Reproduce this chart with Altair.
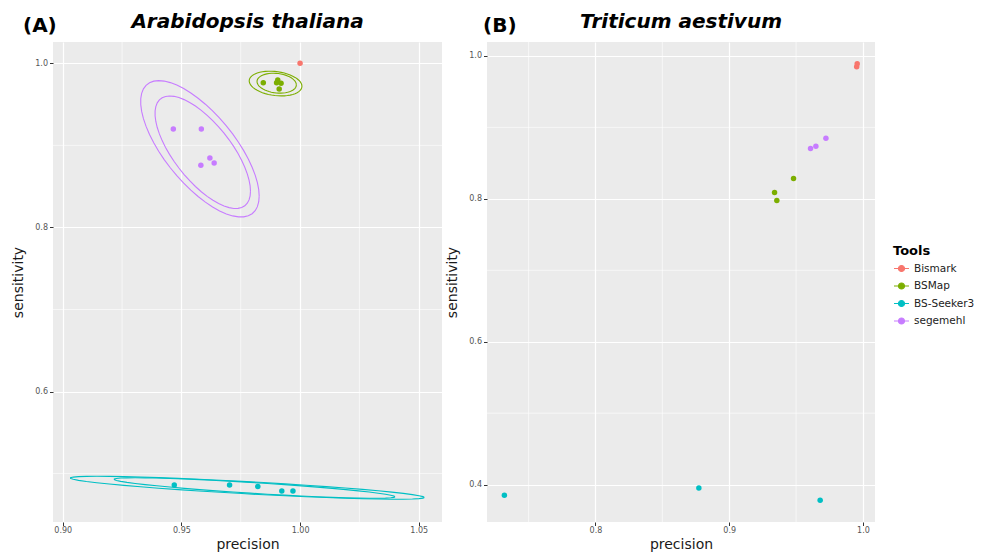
import numpy as np
import pandas as pd
import altair as alt

TOOLS = ["Bismark", "BSMap", "BS-Seeker3", "segemehl"]
COLORS = ["#F8766D", "#7CAE00", "#00BFC4", "#C77CFF"]

# ---------- Panel A: Arabidopsis thaliana ----------
a_bismark_prec = [1.000]
a_bismark_sens = [1.000]
a_bsmap_prec = [0.9845, 0.9901, 0.9906, 0.9920, 0.9912]
a_bsmap_sens = [0.9764, 0.9764, 0.9797, 0.9756, 0.9687]
a_seeker_prec = [0.9470, 0.9703, 0.9822, 0.9923, 0.9970]
a_seeker_sens = [0.4860, 0.4860, 0.4843, 0.4787, 0.4787]
a_seg_prec = [0.9466, 0.9584, 0.9620, 0.9638, 0.9582]
a_seg_sens = [0.9200, 0.9200, 0.8847, 0.8786, 0.8758]

# ---------- Panel B: Triticum aestivum ----------
b_bismark_prec = [0.9953, 0.9957]
b_bismark_sens = [0.9850, 0.9890]
b_bsmap_prec = [0.9481, 0.9339, 0.9356]
b_bsmap_sens = [0.8285, 0.8090, 0.7978]
b_seeker_prec = [0.7319, 0.8773, 0.9680]
b_seeker_sens = [0.3852, 0.3954, 0.3782]
b_seg_prec = [0.9723, 0.9648, 0.9608]
b_seg_sens = [0.8849, 0.8737, 0.8705]

# axis ticks
a_x_major = [0.90, 0.95, 1.00, 1.05]
a_x_minor = [0.925, 0.975, 1.025]
a_y_major = [0.6, 0.8, 1.0]
a_y_minor = [0.5, 0.7, 0.9]
b_x_major = [0.8, 0.9, 1.0]
b_x_minor = [0.75, 0.85, 0.95]
b_y_major = [0.4, 0.6, 0.8, 1.0]
b_y_minor = [0.5, 0.7, 0.9]

a_x_domain = [0.8959, 1.0598]
a_y_domain = [0.441, 1.026]
b_x_domain = [0.7189, 1.009]
b_y_domain = [0.3477, 1.0195]


def cov_trob(x, nu=5, maxit=25, tol=0.01):
    n, p = x.shape
    wt = np.ones(n)
    loc = (wt[:, None] * x).sum(0) / wt.sum()
    w = np.sqrt(wt)
    X = x - loc
    for _ in range(maxit):
        w0 = w
        X = x - loc
        A = np.sqrt(w / w.sum())[:, None] * X
        _, d, vt = np.linalg.svd(A, full_matrices=False)
        wX = X @ vt.T @ np.diag(1 / d)
        Q = (wX ** 2).sum(1)
        w = (wt * (nu + p)) / (nu + Q)
        loc = (w[:, None] * x).sum(0) / w.sum()
        if np.all(np.abs(w - w0) < tol):
            break
    sw = np.sqrt(w)[:, None] * X
    return sw.T @ sw / wt.sum(), loc


def ellipse(prec, sens, kind, level=0.95, segments=51):
    x = np.column_stack([prec, sens])
    n = len(x)
    if kind == "t":
        cov, center = cov_trob(x)
    else:
        cov = np.cov(x.T)
        center = x.mean(0)
    R = np.linalg.cholesky(cov).T
    d2 = n - 1
    qf = (d2 / 2.0) * ((1 - level) ** (-2.0 / d2) - 1)
    radius = np.sqrt(2 * qf)
    ang = np.arange(segments + 1) * 2 * np.pi / segments
    circ = np.column_stack([np.cos(ang), np.sin(ang)])
    return center + radius * (circ @ R)


def points_df(groups):
    rows = []
    for tool, pr, se in groups:
        for p, s in zip(pr, se):
            rows.append({"tool": tool, "precision": p, "sensitivity": s})
    return pd.DataFrame(rows)


a_groups = [
    ("Bismark", a_bismark_prec, a_bismark_sens),
    ("BSMap", a_bsmap_prec, a_bsmap_sens),
    ("BS-Seeker3", a_seeker_prec, a_seeker_sens),
    ("segemehl", a_seg_prec, a_seg_sens),
]
b_groups = [
    ("Bismark", b_bismark_prec, b_bismark_sens),
    ("BSMap", b_bsmap_prec, b_bsmap_sens),
    ("BS-Seeker3", b_seeker_prec, b_seeker_sens),
    ("segemehl", b_seg_prec, b_seg_sens),
]

a_pts = points_df(a_groups)
b_pts = points_df(b_groups)

ell_rows = []
for tool, pr, se in a_groups:
    if len(pr) < 4:
        continue
    for kind in ["t", "norm"]:
        pts = ellipse(pr, se, kind)
        for i, (px, py) in enumerate(pts):
            ell_rows.append({"tool": tool, "kind": kind, "idx": i,
                             "precision": px, "sensitivity": py})
a_ell = pd.DataFrame(ell_rows)

color = alt.Color(
    "tool:N",
    scale=alt.Scale(domain=TOOLS, range=COLORS),
    title="Tools",
    legend=alt.Legend(
        orient="none", legendX=840, legendY=203, padding=0,
        titleFont="DejaVu Sans", titleFontSize=13, titleFontWeight="bold",
        titleColor="black", titlePadding=2,
        labelFont="DejaVu Sans", labelFontSize=10.5, labelColor="#222",
        symbolType="M-1,0L1,0M-0.4,0A0.4,0.4,0,1,0,0.4,0A0.4,0.4,0,1,0,-0.4,0",
        symbolSize=225, symbolStrokeWidth=1.2, rowPadding=3.5,
    ),
)


def panel(pts, ell, xdom, ydom, xmaj, xmin, ymaj, ymin, title, tag, w):
    xs = alt.Scale(domain=xdom, nice=False, zero=False)
    ys = alt.Scale(domain=ydom, nice=False, zero=False)
    xax = alt.Axis(values=xmaj, format=".2f" if tag == "(A)" else ".1f",
                   title="precision")
    yax = alt.Axis(values=ymaj, format=".1f", title="sensitivity")
    vmin = alt.Chart(pd.DataFrame({"precision": xmin})).mark_rule(
        color="white", strokeWidth=0.6
    ).encode(x=alt.X("precision:Q", scale=xs, axis=xax))
    hmin = alt.Chart(pd.DataFrame({"sensitivity": ymin})).mark_rule(
        color="white", strokeWidth=0.6
    ).encode(y=alt.Y("sensitivity:Q", scale=ys, axis=yax))
    layers = [vmin, hmin]
    if ell is not None:
        layers.append(
            alt.Chart(ell).mark_line(strokeWidth=1.1, clip=True).encode(
                x=alt.X("precision:Q", scale=xs, axis=xax),
                y=alt.Y("sensitivity:Q", scale=ys, axis=yax),
                color=color,
                detail="kind:N",
                order=alt.Order("idx:Q"),
            )
        )
    layers.append(
        alt.Chart(pts).mark_point(filled=True, size=30, opacity=1).encode(
            x=alt.X("precision:Q", scale=xs, axis=xax),
            y=alt.Y("sensitivity:Q", scale=ys, axis=yax),
            color=color,
        )
    )
    tagx = -30 if tag == "(A)" else -4
    labels = pd.DataFrame({"t": [tag, title], "kind": ["tag", "title"]})
    layers.append(
        alt.Chart(labels).transform_filter(alt.datum.kind == "tag").mark_text(
            font="DejaVu Sans", fontSize=20, fontWeight="bold", align="left",
            baseline="alphabetic", color="black"
        ).encode(x=alt.value(tagx), y=alt.value(-10), text="t:N")
    )
    layers.append(
        alt.Chart(labels).transform_filter(alt.datum.kind == "title").mark_text(
            font="DejaVu Sans", fontSize=20, fontWeight="bold",
            fontStyle="italic", align="center",
            baseline="alphabetic", color="black"
        ).encode(x=alt.value(w / 2), y=alt.value(-14), text="t:N")
    )
    return alt.layer(*layers).properties(width=w, height=480)


left = panel(a_pts, a_ell, a_x_domain, a_y_domain, a_x_major, a_x_minor,
             a_y_major, a_y_minor, "Arabidopsis thaliana", "(A)", 389)
right = panel(b_pts, None, b_x_domain, b_y_domain, b_x_major, b_x_minor,
              b_y_major, b_y_minor, "Triticum aestivum", "(B)", 388)

chart = alt.hconcat(left, right, spacing=2).properties(
    padding={"left": 3, "top": 4, "right": 0, "bottom": 0}
).configure_view(fill="#EBEBEB", stroke=None).configure_axis(
    domain=False, gridColor="white", gridWidth=1.2,
    tickColor="#333333", tickSize=3.5, tickWidth=1,
    labelColor="#555555", labelFont="DejaVu Sans", labelFontSize=8,
    titleFont="DejaVu Sans", titleFontSize=14, titleFontWeight="normal",
    titleColor="#1a1a1a",
).configure_axisX(labelPadding=1, titlePadding=3).configure_axisY(
    labelPadding=2, titlePadding=9
)

chart.save("out.html", embed_options={"renderer": "svg", "actions": False})
